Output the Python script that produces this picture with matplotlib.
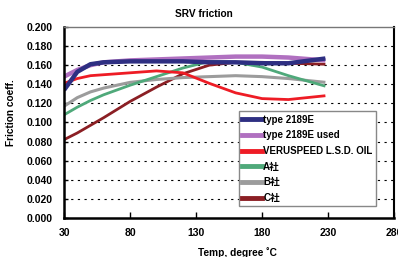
import numpy as np
import matplotlib
matplotlib.use("Agg")
import matplotlib.pyplot as plt

plt.rcParams['font.family'] = ['Liberation Sans', 'Noto Sans CJK JP', 'DejaVu Sans']
plt.rcParams['font.weight'] = 'bold'

# temperatures (degree C)
temp = [30, 40, 50, 60, 80, 100, 120, 140, 160, 180, 200, 228]

type_2189e      = [0.134, 0.153, 0.161, 0.163, 0.164, 0.164, 0.164, 0.163, 0.163, 0.162, 0.162, 0.167]
type_2189e_used = [0.148, 0.155, 0.160, 0.163, 0.165, 0.166, 0.167, 0.168, 0.169, 0.169, 0.168, 0.165]
veruspeed       = [0.141, 0.146, 0.149, 0.150, 0.152, 0.154, 0.152, 0.141, 0.131, 0.125, 0.124, 0.128]
a_sha           = [0.108, 0.116, 0.123, 0.129, 0.139, 0.148, 0.157, 0.164, 0.163, 0.158, 0.149, 0.138]
b_sha           = [0.117, 0.126, 0.132, 0.136, 0.142, 0.145, 0.147, 0.148, 0.149, 0.148, 0.146, 0.142]
c_sha           = [0.082, 0.089, 0.097, 0.105, 0.122, 0.137, 0.151, 0.160, 0.163, 0.163, 0.162, 0.161]

labels = ['type 2189E', 'type 2189E used', 'VERUSPEED L.S.D. OIL', 'A社', 'B社', 'C社']
colors = ['#2e2f82', '#b070c0', '#ee1c25', '#4fa97a', '#9c9c9c', '#8b1f24']
widths = [3.2, 3.2, 2.0, 2.0, 2.2, 2.0]
series = [type_2189e, type_2189e_used, veruspeed, a_sha, b_sha, c_sha]

fig = plt.figure(figsize=(3.98, 2.57), dpi=100)
ax = fig.add_axes([0.161, 0.152, 0.829, 0.743])

# lower ones first so the thick navy sits on top like the original
for i in [5, 4, 3, 2, 1, 0]:
    ax.plot(temp, series[i], color=colors[i], lw=widths[i], solid_capstyle='butt')

ax.set_xlim(30, 280)
ax.set_ylim(0, 0.2)
ax.set_xticks([30, 80, 130, 180, 230, 280])
yt = np.arange(0, 0.201, 0.02)
ax.set_yticks(yt)
ax.set_yticklabels(['%.3f' % v for v in yt])
for y in np.arange(0.02, 0.19, 0.02):
    ax.axhline(y, color='black', lw=0.8, ls=(0, (2, 4)), zorder=0)

ax.tick_params(axis='x', direction='in', length=4, width=1, pad=7, labelsize=7.5)
ax.tick_params(axis='y', direction='in', length=3, width=1, pad=8, labelsize=7.5)
for t in ax.get_xticklabels() + ax.get_yticklabels():
    t.set_fontweight('bold')

ax.spines['left'].set_linewidth(1.8)
ax.spines['bottom'].set_linewidth(1.8)
ax.spines['right'].set_linewidth(1.5)
ax.spines['top'].set_linewidth(1.0)
ax.spines['top'].set_color('#777777')

ax.set_title('SRV friction', fontsize=7.3, fontweight='bold', x=0.424, pad=7)
ax.set_xlabel('Temp, degree ˚C', fontsize=7.3, fontweight='bold')
ax.xaxis.set_label_coords(0.524, -0.15)
ax.set_ylabel('Friction coeff.', fontsize=7.3, fontweight='bold')
ax.yaxis.set_label_coords(-0.145, 0.55)

handles = [plt.Line2D([], [], color=colors[i], lw=3.5) for i in range(6)]
leg = ax.legend(handles, labels, loc='lower left', bbox_to_anchor=(0.515, 0.035),
                fontsize=7, handlelength=2.0, handletextpad=0.15, labelspacing=0.58,
                borderpad=0.35, fancybox=False, framealpha=1, edgecolor='#888888')
leg.get_frame().set_linewidth(1.0)
for t in leg.get_texts():
    t.set_fontweight('bold')

fig.savefig('out.png', dpi=100)
